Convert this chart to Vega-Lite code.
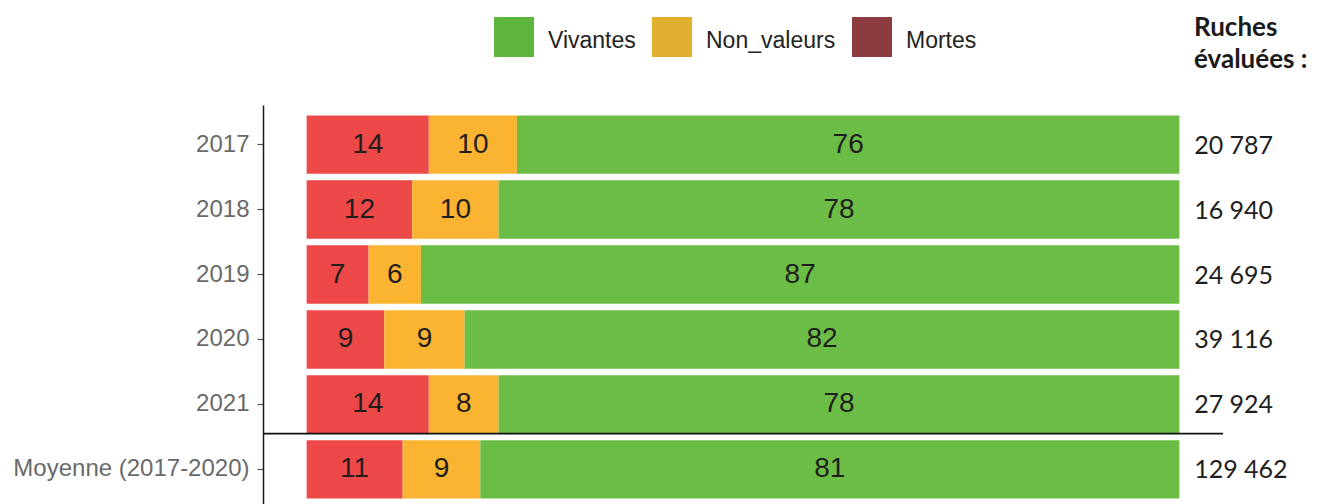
{
  "$schema": "https://vega.github.io/schema/vega-lite/v6.json",
  "autosize": "none",
  "width": 960,
  "height": 404,
  "padding": {"left": 263, "top": 105, "right": 94, "bottom": 0},
  "background": "white",
  "config": {
    "view": {"stroke": null},
    "font": "Liberation Sans",
    "locale": {"number": {"decimal": ",", "thousands": " ", "grouping": [3], "currency": ["", " €"]}}
  },
  "title": {
    "text": ["Ruches", "évaluées :"],
    "anchor": "end",
    "align": "left",
    "dx": -29,
    "frame": "group",
    "orient": "top",
    "offset": -82,
    "baseline": "bottom",
    "lineHeight": 32,
    "font": "Lato",
    "fontSize": 26,
    "fontWeight": "bold",
    "color": "#1a1a1a"
  },
  "datasets": {
    "parts": [
      {"annee": "2017", "categorie": "Mortes", "pct": 14.0, "label": "14"},
      {"annee": "2017", "categorie": "Non_valeurs", "pct": 10.1, "label": "10"},
      {"annee": "2017", "categorie": "Vivantes", "pct": 75.9, "label": "76"},
      {"annee": "2018", "categorie": "Mortes", "pct": 12.1, "label": "12"},
      {"annee": "2018", "categorie": "Non_valeurs", "pct": 9.9, "label": "10"},
      {"annee": "2018", "categorie": "Vivantes", "pct": 78.0, "label": "78"},
      {"annee": "2019", "categorie": "Mortes", "pct": 7.1, "label": "7"},
      {"annee": "2019", "categorie": "Non_valeurs", "pct": 6.0, "label": "6"},
      {"annee": "2019", "categorie": "Vivantes", "pct": 86.9, "label": "87"},
      {"annee": "2020", "categorie": "Mortes", "pct": 8.9, "label": "9"},
      {"annee": "2020", "categorie": "Non_valeurs", "pct": 9.2, "label": "9"},
      {"annee": "2020", "categorie": "Vivantes", "pct": 81.9, "label": "82"},
      {"annee": "2021", "categorie": "Mortes", "pct": 14.0, "label": "14"},
      {"annee": "2021", "categorie": "Non_valeurs", "pct": 8.0, "label": "8"},
      {"annee": "2021", "categorie": "Vivantes", "pct": 78.0, "label": "78"},
      {"annee": "Moyenne (2017-2020)", "categorie": "Mortes", "pct": 11.0, "label": "11"},
      {"annee": "Moyenne (2017-2020)", "categorie": "Non_valeurs", "pct": 8.9, "label": "9"},
      {"annee": "Moyenne (2017-2020)", "categorie": "Vivantes", "pct": 80.1, "label": "81"}
    ],
    "ruches": [
      {"annee": "2017", "ruches": 20787},
      {"annee": "2018", "ruches": 16940},
      {"annee": "2019", "ruches": 24695},
      {"annee": "2020", "ruches": 39116},
      {"annee": "2021", "ruches": 27924},
      {"annee": "Moyenne (2017-2020)", "ruches": 129462}
    ]
  },
  "resolve": {"scale": {"color": "independent"}, "legend": {"color": "independent"}},
  "layer": [
    {
      "data": {"name": "parts"},
      "mark": {"type": "bar", "opacity": 0},
      "encoding": {
        "y": {
          "field": "annee",
          "type": "nominal",
          "sort": ["2017", "2018", "2019", "2020", "2021", "Moyenne (2017-2020)"],
          "scale": {"type": "band", "paddingInner": 0.1, "paddingOuter": 0.16},
          "axis": {
            "title": null,
            "grid": false,
            "domainColor": "#1a1a1a",
            "domainWidth": 1.5,
            "tickColor": "#555555",
            "tickSize": 6,
            "tickWidth": 1.2,
            "labelColor": "#6a6a6a",
            "labelFontSize": 24,
            "labelFont": "Liberation Sans",
            "labelPadding": 8,
            "labelLimit": 400
          }
        },
        "x": {
          "field": "pct",
          "type": "quantitative",
          "stack": "zero",
          "scale": {"domain": [-5, 105], "nice": false, "zero": false},
          "axis": null
        },
        "color": {
          "field": "categorie",
          "type": "nominal",
          "scale": {"domain": ["Vivantes", "Non_valeurs", "Mortes"], "range": ["#5db53e", "#e1ae2d", "#8c3b3f"]},
          "legend": {
            "title": null,
            "orient": "none",
            "legendX": 231,
            "legendY": -88,
            "direction": "horizontal",
            "symbolType": "square",
            "symbolSize": 1600,
            "symbolStrokeWidth": 0,
            "symbolOpacity": 1,
            "labelFontSize": 23,
            "labelColor": "#222222",
            "labelFont": "Liberation Sans",
            "labelOffset": 14,
            "columnPadding": 16,
            "padding": 0,
            "encode": {
              "labels": {
                "update": {"dy": {"value": 4}}
              }
            }
          }
        },
        "order": {"field": "categorie", "type": "ordinal", "sort": "ascending"}
      }
    },
    {
      "data": {"name": "parts"},
      "mark": {"type": "bar"},
      "encoding": {
        "y": {
          "field": "annee",
          "type": "nominal",
          "sort": ["2017", "2018", "2019", "2020", "2021", "Moyenne (2017-2020)"]
        },
        "x": {
          "field": "pct",
          "type": "quantitative",
          "stack": "zero"
        },
        "color": {
          "field": "categorie",
          "type": "nominal",
          "scale": {"domain": ["Vivantes", "Non_valeurs", "Mortes"], "range": ["#6cbd45", "#fab432", "#ee4949"]},
          "legend": null
        },
        "order": {"field": "categorie", "type": "ordinal", "sort": "ascending"}
      }
    },
    {
      "data": {"name": "parts"},
      "transform": [
        {"stack": "pct", "groupby": ["annee"], "sort": [{"field": "categorie", "order": "ascending"}], "as": ["x0", "x1"]},
        {"calculate": "(datum.x0 + datum.x1) / 2", "as": "mid"}
      ],
      "mark": {"type": "text", "font": "Liberation Sans", "fontSize": 28, "color": "#1e1e1e", "align": "center", "baseline": "middle"},
      "encoding": {
        "y": {"field": "annee", "type": "nominal", "sort": ["2017", "2018", "2019", "2020", "2021", "Moyenne (2017-2020)"]},
        "x": {"field": "mid", "type": "quantitative"},
        "text": {"field": "label", "type": "nominal"}
      }
    },
    {
      "data": {"name": "ruches"},
      "transform": [{"filter": "datum.annee === '2021'"}],
      "mark": {"type": "rule", "color": "#111111", "strokeWidth": 1.6},
      "encoding": {
        "y": {"field": "annee", "type": "nominal", "sort": ["2017", "2018", "2019", "2020", "2021", "Moyenne (2017-2020)"], "bandPosition": 1}
      }
    },
    {
      "data": {"name": "ruches"},
      "mark": {"type": "text", "font": "Lato", "fontSize": 25, "color": "#1e1e1e", "align": "left", "baseline": "middle", "dy": 1},
      "encoding": {
        "y": {"field": "annee", "type": "nominal", "sort": ["2017", "2018", "2019", "2020", "2021", "Moyenne (2017-2020)"]},
        "x": {"datum": 101.7, "type": "quantitative"},
        "text": {"field": "ruches", "type": "quantitative", "format": ","}
      }
    }
  ]
}
